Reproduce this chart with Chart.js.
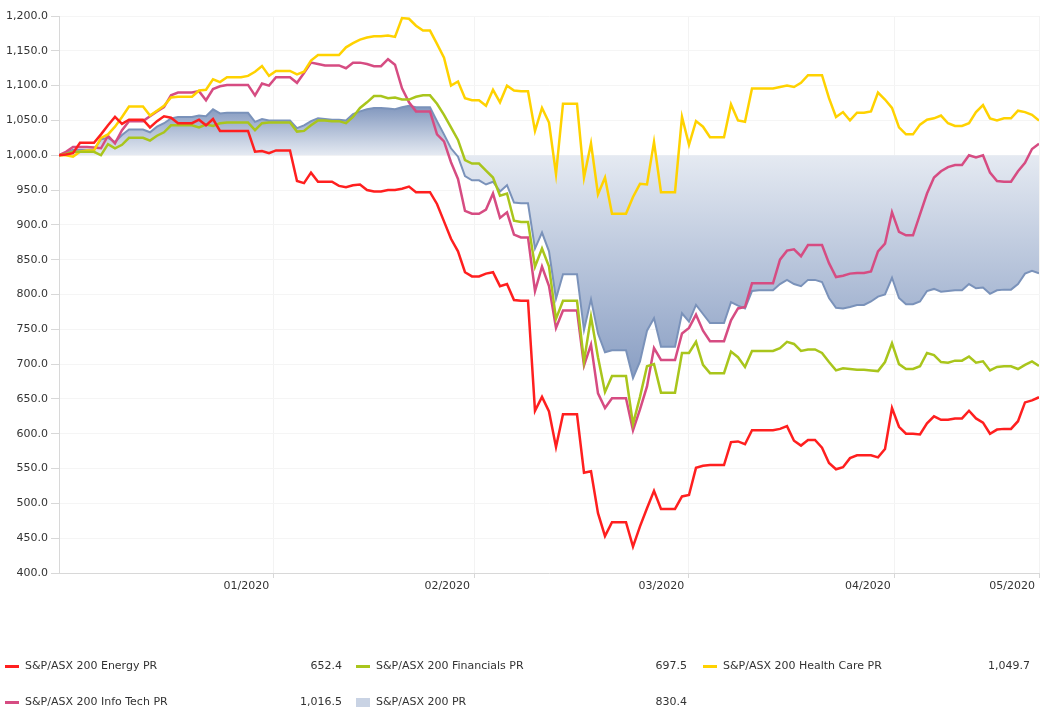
<!DOCTYPE html>
<html>
<head>
<meta charset="utf-8">
<script src="https://cdn.jsdelivr.net/npm/chart.js@4.4.0/dist/chart.umd.min.js"></script>
<style>
  html, body { margin: 0; padding: 0; background: #fff; }
  body { width: 1046px; height: 724px; position: relative; overflow: hidden;
         font-family: "DejaVu Sans", Verdana, sans-serif; }
  #wrap { position: absolute; left: 0; top: 0; width: 1046px; height: 600px; }
  #legend { position: absolute; left: 0; top: 0; width: 1046px; height: 724px; pointer-events: none; }
  .lg { position: absolute; height: 16px; line-height: 16px; font-size: 11px; color: #333; white-space: nowrap; }
  .sw { position: absolute; left: 0; }
  .nm { position: absolute; left: 20px; }
  .val { position: absolute; right: 0; }
</style>
</head>
<body>
<div id="wrap"><canvas id="chart"></canvas></div>
<div id="legend"></div>
<script>
// month labels on the x axis and where they fall (point index)
const monthLabels = ['01/2020', '02/2020', '03/2020', '04/2020', '05/2020'];
const monthTickAt = [30.6, 59.3, 89.9, 119.4, 140];

const seriesNames = ['S&P/ASX 200 Energy PR', 'S&P/ASX 200 Financials PR', 'S&P/ASX 200 Health Care PR',
                     'S&P/ASX 200 Info Tech PR', 'S&P/ASX 200 PR'];

// values, one per point
const energy = [
  1000,1001,1003,1018,1018,1018,1030,1043,1055,1045,1051,1051,1051,1040,1049,1056,1054,1046,1046,1046,
  1051,1043,1052,1035,1035,1035,1035,1035,1005,1006,1003,1007,1007,1007,963,960,975,962,962,962,
  956,954,957,958,950,948,948,950,950,952,955,947,947,947,930,905,880,862,832,826,
  826,830,832,812,815,792,791,791,633,653,632,581,628,628,628,544,546,486,453,473,
  473,473,438,467,493,518,492,492,492,510,512,551,554,555,555,555,588,589,585,605,
  605,605,605,607,611,590,583,591,591,580,558,549,552,565,569,569,569,566,578,637,
  610,600,600,599,615,625,620,620,622,622,633,622,616,600,606,607,607,618,645,648,652.4
];
const financials = [
  1000,1002,1005,1005,1005,1005,1000,1016,1010,1015,1025,1025,1025,1021,1028,1033,1043,1043,1043,1043,
  1040,1044,1042,1046,1047,1047,1047,1047,1036,1046,1047,1047,1047,1047,1034,1035,1043,1050,1050,1049,
  1049,1046,1055,1068,1076,1085,1085,1082,1083,1080,1080,1084,1086,1086,1074,1058,1040,1022,993,988,
  988,978,968,942,945,906,904,904,840,866,840,765,791,791,791,704,768,710,660,683,
  683,683,614,653,697,700,659,659,659,716,716,732,699,687,687,687,718,710,696,719,
  719,719,719,723,732,729,719,721,721,716,703,691,694,693,692,692,691,690,703,730,
  700,693,693,697,716,713,703,702,705,705,711,702,704,691,696,697,697,693,699,704,697.5
];
const healthCare = [
  1000,1000,998,1005,1007,1007,1025,1030,1041,1055,1070,1070,1070,1057,1064,1071,1083,1084,1084,1084,
  1093,1094,1109,1105,1112,1112,1112,1114,1120,1128,1114,1121,1121,1121,1116,1120,1136,1144,1144,1144,
  1144,1155,1161,1166,1169,1171,1171,1172,1170,1197,1196,1186,1179,1179,1160,1140,1100,1106,1082,1079,
  1079,1071,1094,1076,1100,1093,1092,1092,1035,1068,1047,973,1074,1074,1074,968,1017,944,968,916,
  916,916,940,959,958,1019,947,947,947,1055,1015,1049,1041,1026,1026,1026,1073,1050,1048,1096,
  1096,1096,1096,1098,1100,1098,1104,1115,1115,1115,1082,1055,1062,1050,1061,1061,1063,1090,1080,1068,
  1040,1030,1030,1044,1051,1053,1057,1046,1042,1042,1046,1062,1072,1053,1050,1053,1053,1064,1062,1058,1049.7
];
const infoTech = [
  1000,1005,1012,1012,1012,1011,1010,1028,1017,1036,1049,1049,1049,1056,1063,1069,1086,1090,1090,1090,
  1092,1079,1095,1099,1101,1101,1101,1101,1086,1103,1100,1112,1112,1112,1104,1118,1133,1131,1129,1129,
  1129,1125,1133,1133,1131,1128,1128,1138,1130,1096,1076,1063,1063,1063,1030,1020,990,966,920,916,
  916,922,945,910,918,886,882,882,805,840,812,752,777,777,777,698,728,658,637,651,
  651,651,605,635,668,723,706,706,706,744,752,771,748,733,733,733,763,780,782,816,
  816,816,816,850,863,865,855,871,871,871,845,825,827,830,831,831,833,862,873,918,
  890,885,885,915,945,968,977,983,986,986,1000,997,1000,975,963,962,962,977,989,1009,1016.5
];
const asx200 = [
  1000,1003,1008,1008,1008,1008,1023,1025,1019,1029,1037,1037,1037,1033,1041,1046,1053,1055,1055,1055,
  1057,1056,1066,1060,1061,1061,1061,1061,1048,1052,1050,1050,1050,1050,1039,1043,1049,1053,1052,1051,
  1051,1050,1059,1063,1066,1068,1068,1067,1066,1069,1071,1069,1069,1069,1049,1030,1010,998,970,964,
  964,958,962,948,957,932,931,931,866,889,862,794,829,829,829,749,793,744,717,720,
  720,720,680,704,748,766,725,725,725,773,761,785,772,759,759,759,789,784,780,805,
  806,806,806,815,821,815,812,821,821,818,795,781,780,782,785,785,790,797,800,824,
  795,786,786,790,805,808,804,805,806,806,815,809,810,801,806,807,807,815,830,834,830.4
];

const seriesData = [energy, financials, healthCare, infoTech, asx200];
const seriesColors = ['#ff1f1f', '#a9c51c', '#ffd200', '#d64c82', '#7a92ba'];

const fmt = v => v.toLocaleString('en-US', { minimumFractionDigits: 1, maximumFractionDigits: 1 });

Chart.defaults.font.family = '"DejaVu Sans", Verdana, sans-serif';
Chart.defaults.font.size = 11;
Chart.defaults.color = '#333';

function areaGradient(context) {
  const chart = context.chart;
  const { ctx, chartArea, scales } = chart;
  if (!chartArea) return 'rgba(0,0,0,0)';
  const top = chartArea.top, bottom = chartArea.bottom;
  const pos = v => Math.min(1, Math.max(0, (scales.y.getPixelForValue(v) - top) / (bottom - top)));
  const g = ctx.createLinearGradient(0, top, 0, bottom);
  g.addColorStop(pos(1075), 'rgb(122,145,186)');
  g.addColorStop(pos(1000), 'rgb(229,234,242)');
  g.addColorStop(pos(680), 'rgb(137,158,195)');
  return g;
}

const datasets = seriesData.map((arr, k) => {
  const ds = {
    label: seriesNames[k],
    data: arr.map((v, i) => ({ x: i, y: v })),
    borderColor: seriesColors[k],
    borderWidth: k === 4 ? 2 : 2.5,
    pointRadius: 0,
    tension: 0,
    fill: false
  };
  if (k === 4) {
    ds.fill = { value: 1000 };
    ds.backgroundColor = areaGradient;
  }
  return ds;
});

new Chart(document.getElementById('chart'), {
  type: 'line',
  data: { datasets },
  options: {
    responsive: true,
    maintainAspectRatio: false,
    animation: false,
    layout: { padding: { top: 16, right: 7, left: 0, bottom: 0 } },
    plugins: { legend: { display: false }, tooltip: { enabled: false } },
    scales: {
      x: {
        type: 'linear',
        min: 0,
        max: 140,
        afterBuildTicks: axis => { axis.ticks = monthTickAt.map(v => ({ value: v })); },
        afterFit: s => { s.height = 27; },
        ticks: {
          autoSkip: false,
          maxRotation: 0,
          align: 'end',
          labelOffset: -4,
          padding: 2,
          callback: (v, idx) => monthLabels[idx]
        },
        grid: { color: '#f3f3f3', tickColor: '#d8d8d8', tickLength: 5 },
        border: { color: '#d8d8d8' }
      },
      y: {
        min: 400,
        max: 1200,
        afterFit: s => { s.width = 59; },
        ticks: { stepSize: 50, padding: 3, callback: v => fmt(v) },
        grid: { color: '#f5f5f5', tickColor: '#d8d8d8', tickLength: 8 },
        border: { color: '#d8d8d8' }
      }
    }
  }
});

// legend: three columns, value of the last point at the right of each entry
const colLeft = [5, 356, 703];
const colWidth = [337, 331, 327];
const rowTop = [658, 694];
const legend = document.getElementById('legend');
seriesNames.forEach((name, k) => {
  const col = k % 3, row = Math.floor(k / 3);
  const item = document.createElement('div');
  item.className = 'lg';
  item.style.left = colLeft[col] + 'px';
  item.style.top = rowTop[row] + 'px';
  item.style.width = colWidth[col] + 'px';
  const sw = document.createElement('span');
  sw.className = 'sw';
  if (k === 4) {
    sw.style.cssText = 'top:4px;width:14px;height:9px;background:#c9d3e4;';
  } else {
    sw.style.cssText = 'top:7px;width:14px;height:3px;background:' + seriesColors[k] + ';';
  }
  const nm = document.createElement('span');
  nm.className = 'nm';
  nm.textContent = name;
  const val = document.createElement('span');
  val.className = 'val';
  const arr = seriesData[k];
  val.textContent = fmt(arr[arr.length - 1]);
  item.append(sw, nm, val);
  legend.appendChild(item);
});
</script>
</body>
</html>
